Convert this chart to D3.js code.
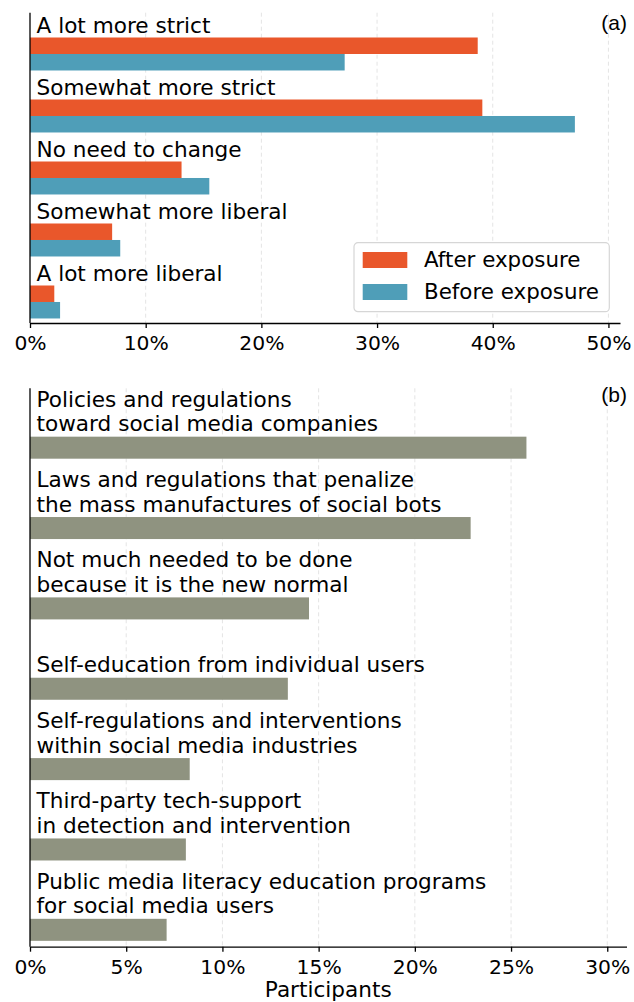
<!DOCTYPE html>
<html>
<head>
<meta charset="utf-8">
<script src="https://cdn.jsdelivr.net/npm/d3@7"></script>
<style>
    body { margin: 0; background: #fff; }
    text { font-family: "DejaVu Sans", sans-serif; fill: #000; }
    .tick line { stroke: #000; stroke-width: 1.3; }
    .domain { stroke: #000; stroke-width: 1.3; }
    .tick text { font-size: 20.3px; }
    .grid { stroke: #e4e4e4; stroke-width: 1; stroke-dasharray: 4,3; }
    .cat-label { font-size: 21.6px; }
    .panel-tag { font-family: "Liberation Sans", Arial, sans-serif; font-size: 21px; }
</style>
</head>
<body>
<div id="chart"></div>
<script>
// panel (a): how regulation should change
var stanceLabels = ["A lot more strict", "Somewhat more strict", "No need to change",
    "Somewhat more liberal", "A lot more liberal"];
var afterValues = [38.7, 39.1, 13.1, 7.1, 2.1];
var beforeValues = [27.2, 47.1, 15.5, 7.8, 2.6];
var stanceTicks = [0, 10, 20, 30, 40, 50];
var seriesNames = ["After exposure", "Before exposure"];

// panel (b): what should be done
var actionLabels = [
    ["Policies and regulations", "toward social media companies"],
    ["Laws and regulations that penalize", "the mass manufactures of social bots"],
    ["Not much needed to be done", "because it is the new normal"],
    ["Self-education from individual users"],
    ["Self-regulations and interventions", "within social media industries"],
    ["Third-party tech-support", "in detection and intervention"],
    ["Public media literacy education programs", "for social media users"]
];
var actionValues = [25.8, 22.9, 14.5, 13.4, 8.3, 8.1, 7.1];
var actionTicks = [0, 5, 10, 15, 20, 25, 30];

var width = 634,
    height = 1002,
    axisLeft = 30,
    afterColor = "#e9572b",
    beforeColor = "#4f9eb8",
    actionColor = "#8f9380";

var svg = d3.select("#chart").append("svg")
    .attr("width", width)
    .attr("height", height);

function pct(d) { return d + "%"; }

// ---------- panel (a) ----------

var xa = d3.scaleLinear().domain([0, 51]).range([axisLeft, 620]);
var ya = d3.scaleLinear().domain([-0.666, 4.339]).range([12.7, 323]);
var barA = 0.266;

var ga = svg.append("g");

ga.selectAll(".grid")
    .data(stanceTicks.slice(1))
    .enter().append("line")
    .attr("class", "grid")
    .attr("x1", function (d) { return xa(d); })
    .attr("x2", function (d) { return xa(d); })
    .attr("y1", ya.range()[0])
    .attr("y2", ya.range()[1]);

var groupsA = ga.selectAll(".stance")
    .data(stanceLabels)
    .enter().append("g")
    .attr("class", "stance");

groupsA.append("rect")
    .attr("x", xa(0))
    .attr("y", function (d, i) { return ya(i - barA); })
    .attr("width", function (d, i) { return xa(afterValues[i]) - xa(0); })
    .attr("height", function (d, i) { return ya(i) - ya(i - barA); })
    .attr("fill", afterColor);

groupsA.append("rect")
    .attr("x", xa(0))
    .attr("y", function (d, i) { return ya(i); })
    .attr("width", function (d, i) { return xa(beforeValues[i]) - xa(0); })
    .attr("height", function (d, i) { return ya(i + barA) - ya(i); })
    .attr("fill", beforeColor);

groupsA.append("text")
    .attr("class", "cat-label")
    .attr("x", axisLeft + 6.5)
    .attr("y", function (d, i) { return ya(i - barA) - 4.7; })
    .text(function (d) { return d; });

ga.append("g")
    .attr("transform", "translate(0," + ya.range()[1] + ")")
    .call(d3.axisBottom(xa).tickValues(stanceTicks).tickFormat(pct)
        .tickSize(5).tickSizeOuter(0).tickPadding(8));

ga.append("line")
    .attr("class", "domain")
    .attr("x1", axisLeft).attr("x2", axisLeft)
    .attr("y1", ya.range()[0]).attr("y2", ya.range()[1]);

ga.append("text")
    .attr("class", "panel-tag")
    .attr("x", 627)
    .attr("y", 30)
    .attr("text-anchor", "end")
    .text("(a)");

// legend
var legend = ga.append("g").attr("transform", "translate(354,242.7)");

legend.append("rect")
    .attr("width", 255.3)
    .attr("height", 69)
    .attr("rx", 4)
    .attr("fill", "#fff")
    .attr("stroke", "#d6d6d6")
    .attr("stroke-width", 1.2);

var legendItems = legend.selectAll(".item")
    .data(seriesNames)
    .enter().append("g")
    .attr("class", "item")
    .attr("transform", function (d, i) { return "translate(0," + (i * 32) + ")"; });

legendItems.append("rect")
    .attr("x", 8.7)
    .attr("y", 9.3)
    .attr("width", 44.6)
    .attr("height", 16)
    .attr("fill", function (d, i) { return i === 0 ? afterColor : beforeColor; });

legendItems.append("text")
    .attr("x", 70)
    .attr("y", 24.8)
    .style("font-size", "21.4px")
    .text(function (d) { return d; });

// ---------- panel (b) ----------

var xb = d3.scaleLinear().domain([0, 31]).range([axisLeft, 626.5]);
var yb = d3.scaleLinear().domain([-0.739, 6.21]).range([388.3, 946.7]);
var barB = 0.274;

var gb = svg.append("g");

gb.selectAll(".grid")
    .data(actionTicks.slice(1))
    .enter().append("line")
    .attr("class", "grid")
    .attr("x1", function (d) { return xb(d); })
    .attr("x2", function (d) { return xb(d); })
    .attr("y1", yb.range()[0])
    .attr("y2", yb.range()[1]);

var groupsB = gb.selectAll(".action")
    .data(actionLabels)
    .enter().append("g")
    .attr("class", "action");

groupsB.append("rect")
    .attr("x", xb(0))
    .attr("y", function (d, i) { return yb(i - barB / 2); })
    .attr("width", function (d, i) { return xb(actionValues[i]) - xb(0); })
    .attr("height", function (d, i) { return yb(i + barB / 2) - yb(i - barB / 2); })
    .attr("fill", actionColor);

// multi-line labels, last line sits just above the bar
groupsB.append("text")
    .attr("class", "cat-label")
    .each(function (lines, i) {
        var self = d3.select(this);
        var last = yb(i - barB / 2) - 5.5;
        lines.forEach(function (line, j) {
            self.append("tspan")
                .attr("x", axisLeft + 6.5)
                .attr("y", last - (lines.length - 1 - j) * 24.5)
                .text(line);
        });
    });

gb.append("g")
    .attr("transform", "translate(0," + yb.range()[1] + ")")
    .call(d3.axisBottom(xb).tickValues(actionTicks).tickFormat(pct)
        .tickSize(5).tickSizeOuter(0).tickPadding(7.5));

gb.append("line")
    .attr("class", "domain")
    .attr("x1", axisLeft).attr("x2", axisLeft)
    .attr("y1", yb.range()[0]).attr("y2", yb.range()[1]);

gb.append("text")
    .attr("class", "panel-tag")
    .attr("x", 627)
    .attr("y", 402)
    .attr("text-anchor", "end")
    .text("(b)");

gb.append("text")
    .attr("x", (xb.range()[0] + xb.range()[1]) / 2)
    .attr("y", 997)
    .attr("text-anchor", "middle")
    .style("font-size", "21.6px")
    .text("Participants");

svg.selectAll(".tick text").attr("fill", "#000").style("font-family", "DejaVu Sans");
</script>
</body>
</html>
